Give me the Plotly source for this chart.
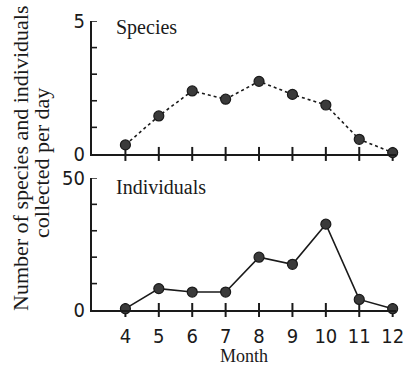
import plotly.graph_objects as go

months = [4, 5, 6, 7, 8, 9, 10, 11, 12]
species = [0.34, 1.43, 2.37, 2.06, 2.73, 2.24, 1.84, 0.55, 0.05]
individuals = [0.5, 8.1, 6.8, 6.8, 20.0, 17.3, 32.5, 4.0, 0.5]
month_ticks = [4, 5, 6, 7, 8, 9, 10, 11, 12]
species_ticks = [0, 1, 2, 3, 4, 5]
species_text = ["0", "", "", "", "", "5"]
indiv_ticks = [0, 10, 20, 30, 40, 50]
indiv_text = ["0", "", "", "", "", "50"]

SERIF = "Liberation Serif, Times New Roman, serif"
NARROW = "DejaVu Sans Condensed, Liberation Sans Narrow, Arial Narrow, Liberation Sans, sans-serif"
INK = "#1a1a1a"
CLEAR = "rgba(0,0,0,0)"
X0 = 3

fig = go.Figure()
# crossing x tick marks, drawn as vertical-line markers at the month tick values
for xa, ya in [("x", "y"), ("x2", "y2")]:
    fig.add_trace(go.Scatter(
        x=month_ticks, y=[0] * len(month_ticks), xaxis=xa, yaxis=ya, mode="markers",
        marker=dict(symbol="line-ns", size=10, color=INK, line=dict(color=INK, width=2)),
        cliponaxis=False, showlegend=False, hoverinfo="skip"))
fig.add_trace(go.Scatter(
    x=months, y=species, xaxis="x2", yaxis="y2", mode="lines+markers",
    line=dict(color=INK, width=1.6, dash="dot"),
    marker=dict(size=10, color="#3a3a3a", line=dict(color=INK, width=1.2)),
    cliponaxis=False, showlegend=False))
fig.add_trace(go.Scatter(
    x=months, y=individuals, xaxis="x", yaxis="y", mode="lines+markers",
    line=dict(color=INK, width=1.6),
    marker=dict(size=10, color="#3a3a3a", line=dict(color=INK, width=1.2)),
    cliponaxis=False, showlegend=False))

# y tick marks crossing the axis, placed through the axes' own scales
shapes = []
for xr_, yr_, vals in [("x", "y", indiv_ticks), ("x2", "y2", species_ticks)]:
    for v in vals[1:]:
        shapes.append(dict(type="line", xref=xr_, yref=yr_, y0=v, y1=v,
                           xsizemode="pixel", xanchor=X0, x0=-3, x1=5,
                           line=dict(color=INK, width=1.6), layer="below"))

xr = [X0, 12.1]
common_x = dict(range=xr, showgrid=False, zeroline=False, showline=True, automargin=False,
                linecolor=INK, linewidth=2, tickmode="array", tickvals=month_ticks,
                ticks="outside", tickcolor=CLEAR, ticklen=7)
common_y = dict(showgrid=False, zeroline=False, showline=True, tickmode="array", automargin=False,
                linecolor=INK, linewidth=2, ticks="outside", tickcolor=CLEAR, ticklen=1)

top_dom = [0.540, 1.0]
bot_dom = [0.0, 0.457]

fig.update_layout(
    width=405, height=366,
    margin=dict(l=92, r=9, t=21, b=56),
    paper_bgcolor="white", plot_bgcolor="white",
    font=dict(family=NARROW, size=18, color=INK),
    shapes=shapes,
    xaxis=dict(**common_x, anchor="y",
               tickfont=dict(family=NARROW, size=20, color=INK),
               title=dict(text="Month", font=dict(family=SERIF, size=18, color=INK), standoff=7)),
    xaxis2=dict(**common_x, anchor="y2", showticklabels=False),
    yaxis=dict(**common_y, domain=bot_dom, anchor="x", range=[0, 50],
               tickvals=indiv_ticks, ticktext=indiv_text,
               tickfont=dict(family=NARROW, size=20, color=INK)),
    yaxis2=dict(**common_y, domain=top_dom, anchor="x2", range=[0, 5],
                tickvals=species_ticks, ticktext=species_text,
                tickfont=dict(family=NARROW, size=20, color=INK)),
    annotations=[
        dict(text="Species", xref="x2", yref="y2", x=3.65, y=4.75, xanchor="left", yanchor="middle",
             showarrow=False, font=dict(family=SERIF, size=20, color=INK)),
        dict(text="Individuals", xref="x", yref="y", x=3.65, y=46.5, xanchor="left", yanchor="middle",
             showarrow=False, font=dict(family=SERIF, size=20, color=INK)),
        dict(text="Number of species and individuals", xref="paper", yref="paper",
             x=(20 - 92) / 304, y=(310 - 158) / 289, xanchor="center", yanchor="middle", textangle=-90,
             showarrow=False, font=dict(family=SERIF, size=22, color=INK)),
        dict(text="collected per day", xref="paper", yref="paper",
             x=(41 - 92) / 304, y=(310 - 163) / 289, xanchor="center", yanchor="middle", textangle=-90,
             showarrow=False, font=dict(family=SERIF, size=22, color=INK)),
    ],
)

fig.write_html("out.html")
